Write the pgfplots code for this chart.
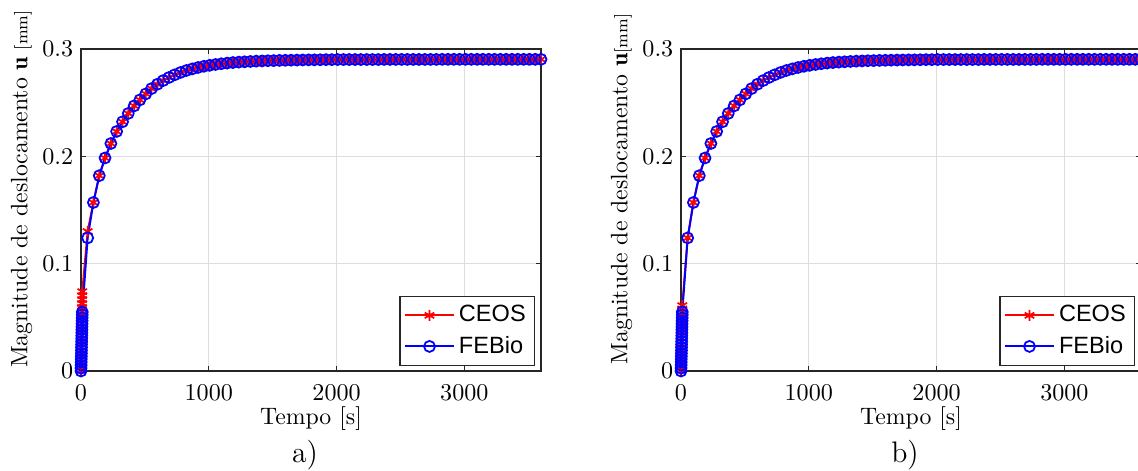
\documentclass[border=0pt]{standalone}
\usepackage{fontspec}
\usepackage{pgfplots}
\usepackage{pgfplotstable}
\pgfplotsset{compat=1.18}
\newfontfamily\legfont{Liberation Sans}
\newcommand\fs{\fontsize{11}{13.2}\selectfont}

% ramp phase (loading) -- FEBio
\pgfplotstableread{
t y
0 0
0.5 0.00275
1 0.0055
1.5 0.00825
2 0.011
2.5 0.01375
3 0.0165
3.5 0.01925
4 0.022
4.5 0.02475
5 0.0275
5.5 0.03025
6 0.033
6.5 0.03575
7 0.0385
7.5 0.04125
8 0.044
8.5 0.04675
9 0.0495
9.5 0.05225
10 0.055
52 0.124
}\febio
% ramp phase -- CEOS a)
\pgfplotstableread{
t y
0 0
0.5 0.0037
1 0.0074
1.5 0.0111
2 0.0148
2.5 0.0185
3 0.0222
3.5 0.0259
4 0.0296
4.5 0.0333
5 0.037
5.5 0.0407
6 0.0444
6.5 0.0481
7 0.0518
7.5 0.0555
8 0.0592
8.5 0.0629
9 0.0666
9.5 0.0703
10 0.074
52 0.130
}\ceosa
% ramp phase -- CEOS b)
\pgfplotstableread{
t y
0 0
0.5 0.00305
1 0.0061
1.5 0.00915
2 0.0122
2.5 0.01525
3 0.0183
3.5 0.02135
4 0.0244
4.5 0.02745
5 0.0305
5.5 0.03355
6 0.0366
6.5 0.03965
7 0.0427
7.5 0.04575
8 0.0488
8.5 0.05185
9 0.0549
9.5 0.05795
10 0.061
52 0.124
}\ceosb
% consolidation phase (common)
\pgfplotstableread{
t y
97 0.157
143 0.182
188 0.1985
234 0.212
279 0.2232
325 0.2322
370 0.2400
416 0.2470
461 0.2526
507 0.2582
552 0.2631
598 0.2672
643 0.2706
689 0.2735
734 0.2760
780 0.2782
825 0.2800
871 0.2815
916 0.2828
962 0.2839
1007 0.2848
1053 0.2856
1098 0.2863
1144 0.2869
1189 0.2874
1235 0.2878
1280 0.2881
1326 0.2884
1371 0.2887
1417 0.2889
1462 0.2891
1508 0.2892
1553 0.2894
1599 0.2895
1644 0.2896
1690 0.2897
1735 0.2898
1781 0.2899
1826 0.2899
1872 0.2900
1917 0.2901
1963 0.2901
2008 0.2902
2054 0.2902
2099 0.2902
2145 0.2902
2190 0.2902
2236 0.2902
2281 0.2902
2327 0.2902
2372 0.2903
2418 0.2903
2463 0.2903
2509 0.2903
2554 0.2903
2600 0.2903
2645 0.2903
2691 0.2903
2736 0.2903
2781 0.2903
2827 0.2904
2872 0.2904
2918 0.2904
2963 0.2904
3009 0.2904
3054 0.2904
3100 0.2904
3145 0.2904
3191 0.2904
3236 0.2904
3282 0.2904
3327 0.2904
3373 0.2904
3418 0.2904
3464 0.2904
3509 0.2904
3555 0.2904
3600 0.2904
}\tail
\pgfplotstablevertcat{\febio}{\tail}
\pgfplotstablevertcat{\ceosa}{\tail}
\pgfplotstablevertcat{\ceosb}{\tail}

\pgfplotsset{
  myax/.style={
    scale only axis, width=209.09pt, height=146.36pt,
    xmin=0, xmax=3600, ymin=0, ymax=0.3,
    xtick={0,1000,2000,3000}, ytick={0,0.1,0.2,0.3},
    scaled x ticks=false, scaled y ticks=false,
    /pgf/number format/1000 sep={},
    clip=false,
    axis line style={black!85, line width=0.6pt},
    tick style={black!85, line width=0.6pt},
    major tick length=2.3pt,
    tick align=inside,
    grid=major,
    major grid style={black!13, line width=0.45pt},
    tick label style={font=\fs},
    xticklabel style={anchor=base, yshift=-13.6pt},
    xlabel={Tempo [s]},
    xlabel style={font=\fontsize{10.8}{13}\selectfont, at={(axis description cs:0.5,0)}, anchor=base, yshift=-24.5pt},
    ylabel style={font=\fontsize{10.8}{13}\selectfont, at={(axis description cs:-0.1052,0.565)}, anchor=south, inner sep=0pt},
    legend style={at={(axis description cs:1,0)}, anchor=south east, xshift=-2.7pt, yshift=2.3pt,
      draw=black!85, line width=0.5pt, fill=white, font=\legfont\fontsize{10.7}{12}\selectfont,
      inner xsep=2pt, inner ysep=2pt, row sep=1pt},
    legend cell align=left,
    legend image code/.code={
      \draw[mark repeat=2,mark phase=2] plot coordinates {(0cm,0cm) (0.385cm,0cm) (0.77cm,0cm)};},
  },
  ceos/.style={red, line width=0.9pt, mark=asterisk, mark size=2.5pt, mark options={line width=0.8pt}},
  feb/.style={blue, line width=0.9pt, mark=o, mark size=2.5pt, mark options={line width=0.8pt}},
}

\begin{document}
\begin{tikzpicture}
\begin{axis}[myax, at={(0pt,0pt)}, anchor=south west,
  ylabel={Magnitude de deslocamento $\mathbf{u}\;{\scriptstyle[\mathrm{mm}]}$}]
  \addplot[ceos] table[x=t,y=y] {\ceosa};
  \addplot[feb] table[x=t,y=y] {\febio};
  \legend{CEOS,FEBio}
  \node[font=\fontsize{13.5}{16}\selectfont, anchor=base, xshift=-2.7pt, yshift=-41.8pt] at (rel axis cs:0.5,0) {a)};
\end{axis}
\begin{axis}[myax, at={(272.73pt,0pt)}, anchor=south west,
  ylabel={Magnitude de deslocamento $\mathbf{u}{\scriptstyle[\mathrm{mm}]}$}]
  \addplot[ceos] table[x=t,y=y] {\ceosb};
  \addplot[feb] table[x=t,y=y] {\febio};
  \legend{CEOS,FEBio}
  \node[font=\fontsize{13.5}{16}\selectfont, anchor=base, xshift=-2.7pt, yshift=-41.8pt] at (rel axis cs:0.5,0) {b)};
\end{axis}
\pgfresetboundingbox
\useasboundingbox (-36.82pt,-45.45pt) rectangle (480.45pt,168.64pt);
\end{tikzpicture}
\end{document}
